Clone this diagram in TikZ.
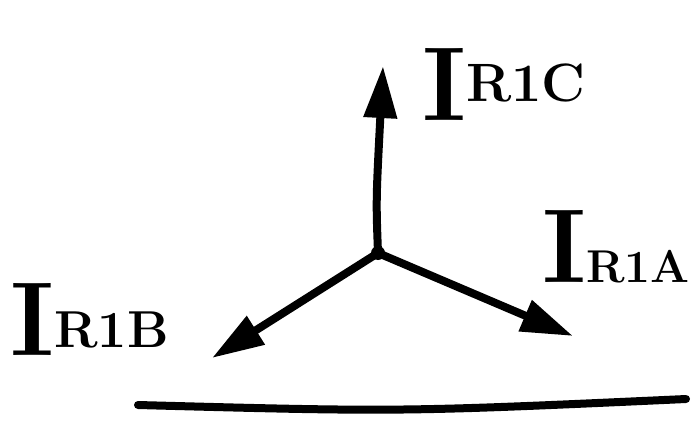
\documentclass[tikz,border=0pt]{standalone}
\usetikzlibrary{arrows.meta}
\newcommand{\phlabel}[3]{{\fontsize{105}{105}\selectfont\bfseries I}\raisebox{#2}{\fontsize{#3}{#3}\selectfont\bfseries #1}}
\begin{document}
\begin{tikzpicture}[x=1pt,y=-1pt,
  phasor/.style={line width=8pt,-{Triangle[length=52pt,width=32pt]}},
  lbl/.style={anchor=base west,inner sep=0pt}]
\useasboundingbox (0,0) rectangle (692,425);
\coordinate (O) at (378,253);
\coordinate (C) at (383,66);
\coordinate (A) at (573,336);
\coordinate (B) at (212,358);
\fill (O) circle (7);
\draw[phasor] (O) .. controls (376,200) .. (C);
\draw[phasor] (O) -- (A);
\draw[phasor] (O) -- (B);
\coordinate (g1) at (138,405);
\coordinate (g2) at (686,399);
\draw[line width=8pt,line cap=round] (g1) .. controls (400,412) .. (g2);
\node[lbl] (lc) at (422,120) {\phlabel{R1C}{18pt}{54}};
\node[lbl] (la) at (542,282) {\phlabel{R1A}{0pt}{46}};
\node[lbl] (lb) at (10,355) {\phlabel{R1B}{8pt}{52}};
\end{tikzpicture}
\end{document}
